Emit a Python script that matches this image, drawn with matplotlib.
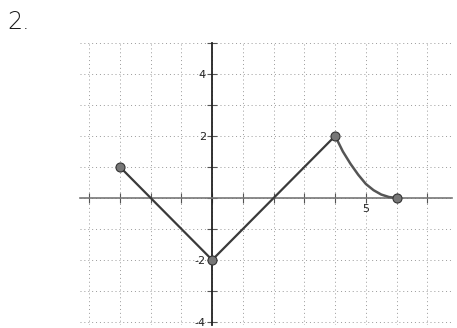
import numpy as np
import matplotlib
matplotlib.use("Agg")
import matplotlib.pyplot as plt

# points
seg_x = [-3, 0, 4]
seg_y = [1, -2, 2]
curve_x = [4, 4.25, 4.5, 4.75, 5, 5.25, 5.5, 5.75, 6]
curve_y = [2, 1.5, 1.1, 0.75, 0.45, 0.25, 0.11, 0.03, 0]
dot_x = [-3, 0, 4, 6]
dot_y = [1, -2, 2, 0]

fig = plt.figure(figsize=(4.57, 3.28), dpi=100)
fig.text(0.016, 0.97, "2.", fontsize=17, va="top", ha="left", color="#1a1a1a",
         family="DejaVu Sans", fontweight="light")

ax = fig.add_axes([0.175, 0.009, 0.814, 0.86])
ax.set_xlim(-4.3, 7.8)
ax.set_ylim(-4.1, 5.0)

ax.set_xticks(np.arange(-4, 8))
ax.set_yticks(np.arange(-4, 6))
ax.grid(True, linestyle=(0, (1, 3)), color="#999999", linewidth=0.7)

ax.spines["left"].set_position("zero")
ax.spines["bottom"].set_position("zero")
ax.spines["left"].set_color("#222222")
ax.spines["left"].set_linewidth(1.3)
ax.spines["bottom"].set_color("#777777")
ax.spines["bottom"].set_linewidth(1.2)
ax.spines["top"].set_visible(False)
ax.spines["right"].set_visible(False)

ax.tick_params(direction="inout", length=7, width=0.8, colors="#555555", labelsize=8,
               labelcolor="#222222", pad=1)
ax.set_xticklabels(["5" if t == 5 else "" for t in range(-4, 8)])
ax.set_yticklabels([str(t) if t in (-4, -2, 2, 4) else "" for t in range(-4, 6)])

ax.plot(seg_x, seg_y, color="#3a3a3a", linewidth=1.6, zorder=3)
ax.plot(curve_x, curve_y, color="#555555", linewidth=1.8, zorder=3)
ax.plot(dot_x, dot_y, "o", markersize=6.5, markerfacecolor="#777777",
        markeredgecolor="#333333", markeredgewidth=0.8, zorder=4)

fig.savefig("out.png", dpi=100)
